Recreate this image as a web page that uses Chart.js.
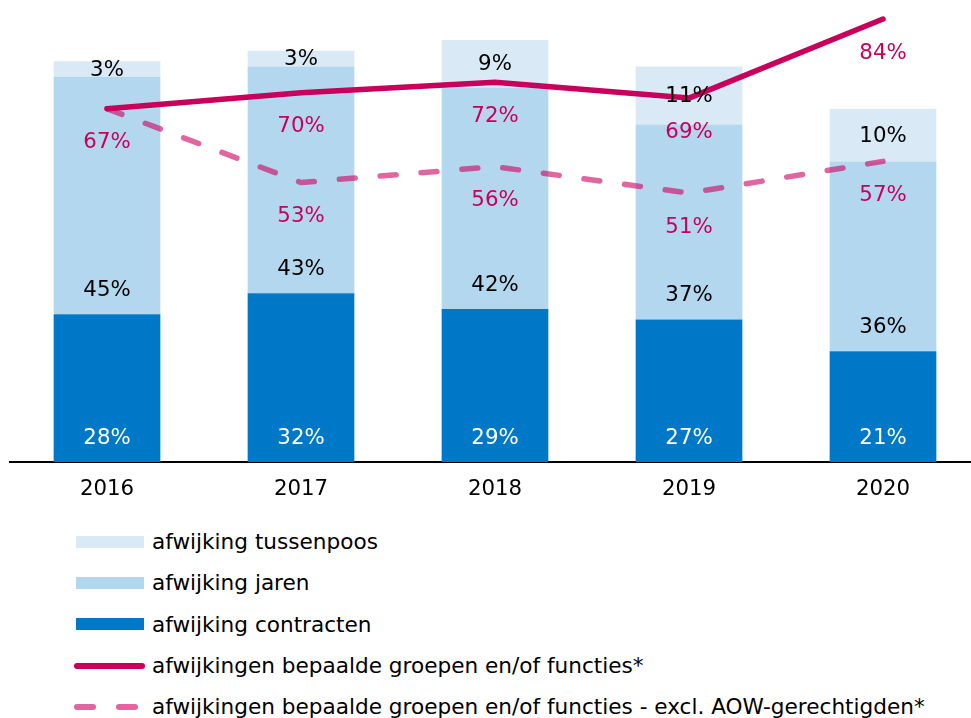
<!DOCTYPE html>
<html>
<head>
<meta charset="utf-8">
<script src="https://cdn.jsdelivr.net/npm/chart.js@4/dist/chart.umd.min.js"></script>
<style>
    body { margin: 0; overflow: hidden; background: #fff; font-family: "DejaVu Sans", Verdana, sans-serif; }
    #wrap { position: absolute; left: 0; top: 0; width: 990px; height: 510px; }
    #legend { position: absolute; left: 74px; top: 521px; }
    .row { height: 41.3px; display: flex; align-items: center; font-size: 21.6px; color: #000; white-space: nowrap; }
    .sw { width: 72px; height: 12px; margin-right: 6px; position: relative; }
</style>
</head>
<body>
<div id="wrap"><canvas id="myGraph"></canvas></div>
<div id="legend"></div>
<script>
////////////////// DATA //////////////////
const years = ["2016", "2017", "2018", "2019", "2020"];
const contracten = [28, 32, 29, 27, 21];
const jaren = [45, 43, 42, 37, 36];
const tussenpoos = [3, 3, 9, 11, 10];
const groepen = [67, 70, 72, 69, 84];
const groepenExclAow = [67, 53, 56, 51, 57];

const magenta = "#c8005b";

Chart.defaults.font.family = '"DejaVu Sans", Verdana, sans-serif';
Chart.defaults.font.size = 21;
Chart.defaults.color = "#000";

// labels on bars and lines (no datalabels plugin available)
const valueLabels = {
    id: "valueLabels",
    afterDatasetsDraw(chart) {
        const ctx = chart.ctx;
        ctx.save();
        ctx.font = '21.3px "DejaVu Sans", Verdana, sans-serif';
        ctx.textAlign = "center";
        ctx.textBaseline = "middle";
        chart.data.datasets.forEach((ds, i) => {
            const meta = chart.getDatasetMeta(i);
            meta.data.forEach((el, j) => {
                let y;
                if (ds.type == "line") {
                    // same point as the solid line -> only one label
                    if (ds.skipSame !== undefined && ds.data[j] == chart.data.datasets[ds.skipSame].data[j]) return;
                    y = el.y + 34;
                } else if (ds.labelAt == "bottom") {
                    y = el.base - 24;
                } else {
                    y = (el.y + el.base) / 2 + 1;
                }
                ctx.fillStyle = ds.labelColor;
                ctx.fillText(ds.data[j] + "%", el.x, y);
            });
        });
        ctx.restore();
    }
};

const ctx = document.getElementById("myGraph");

let myChart = new Chart(ctx, {
    type: "bar",
    data: {
        labels: years,
        datasets: [{
            type: "line",
            label: "afwijkingen bepaalde groepen en/of functies*",
            data: groepen,
            borderColor: magenta,
            borderWidth: 5.5,
            pointRadius: 0,
            borderCapStyle: "round",
            borderJoinStyle: "round",
            stack: "l1",
            order: 0,
            labelColor: magenta
        }, {
            type: "line",
            label: "afwijkingen bepaalde groepen en/of functies - excl. AOW-gerechtigden*",
            data: groepenExclAow,
            borderColor: "rgba(205, 0, 95, 0.6)",
            borderWidth: 5.5,
            borderDash: [16, 25],
            pointRadius: 0,
            borderCapStyle: "round",
            borderJoinStyle: "round",
            stack: "l2",
            order: 1,
            labelColor: magenta,
            skipSame: 0
        }, {
            label: "afwijking contracten",
            data: contracten,
            backgroundColor: "#0078c8",
            stack: "bars",
            order: 2,
            labelAt: "bottom",
            labelColor: "#fff"
        }, {
            label: "afwijking jaren",
            data: jaren,
            backgroundColor: "#b3d7ee",
            stack: "bars",
            order: 2,
            labelAt: "bottom",
            labelColor: "#000"
        }, {
            label: "afwijking tussenpoos",
            data: tussenpoos,
            backgroundColor: "#d9eaf6",
            stack: "bars",
            order: 2,
            labelAt: "middle",
            labelColor: "#000"
        }]
    },
    options: {
        responsive: true,
        maintainAspectRatio: false,
        animation: false,
        layout: { padding: { left: 10, right: 10, top: 0, bottom: 0 } },
        datasets: {
            bar: { categoryPercentage: 1, barPercentage: 0.55 }
        },
        plugins: {
            legend: { display: false },
            tooltip: { enabled: false }
        },
        scales: {
            x: {
                stacked: true,
                grid: { display: false, drawTicks: false },
                border: { display: true, color: "#000", width: 2 },
                ticks: { color: "#000", padding: 15, font: { size: 21.3 } },
                afterFit(scale) { scale.height = 48; }
            },
            y: {
                stacked: true,
                display: false,
                min: 0,
                max: 87.6
            }
        }
    },
    plugins: [valueLabels]
});

/////////////// LEGEND ///////////////
const legendOrder = [4, 3, 2, 0, 1];
const legend = document.getElementById("legend");

legendOrder.forEach(i => {
    const ds = myChart.data.datasets[i];
    const row = document.createElement("div");
    row.className = "row";
    const sw = document.createElement("div");
    sw.className = "sw";
    if (ds.type == "line") {
        if (ds.borderDash) {
            sw.innerHTML = `<div style="position:absolute;left:0;top:3px;width:22px;height:6px;border-radius:3px;background:${ds.borderColor}"></div>
                            <div style="position:absolute;left:42px;top:3px;width:22px;height:6px;border-radius:3px;background:${ds.borderColor}"></div>`;
        } else {
            sw.innerHTML = `<div style="position:absolute;left:0;top:3px;width:71px;height:6px;border-radius:3px;background:${ds.borderColor}"></div>`;
        }
    } else {
        sw.innerHTML = `<div style="position:absolute;left:2px;top:0;width:68px;height:12px;background:${ds.backgroundColor}"></div>`;
    }
    const txt = document.createElement("span");
    txt.textContent = ds.label;
    row.appendChild(sw);
    row.appendChild(txt);
    legend.appendChild(row);
});
</script>
</body>
</html>
